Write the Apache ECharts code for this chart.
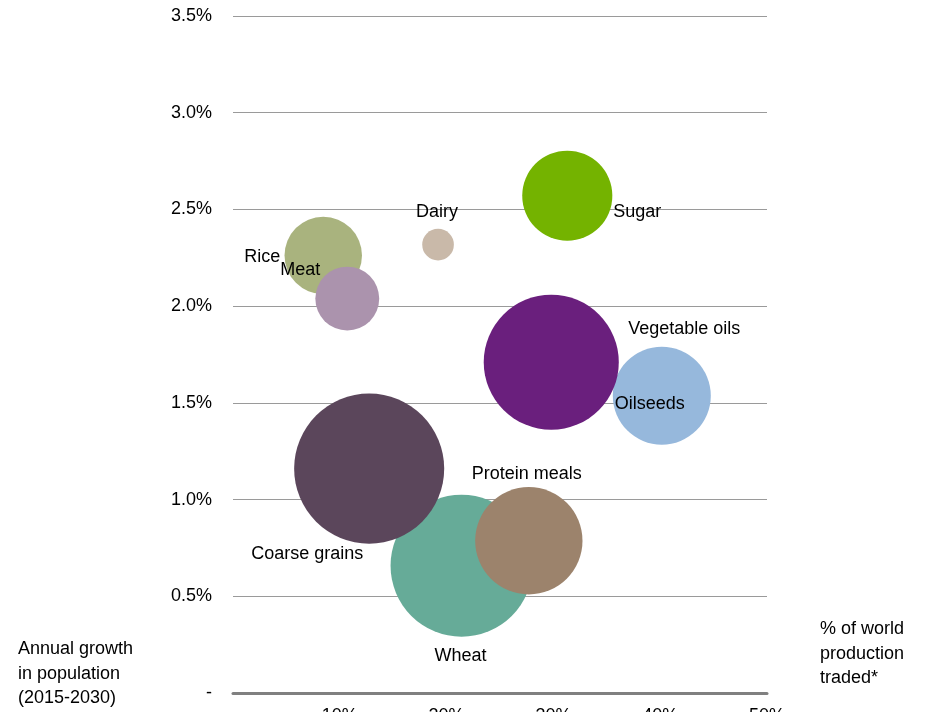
<!DOCTYPE html>
<html>
<head>
<meta charset="utf-8">
<script src="https://cdn.jsdelivr.net/npm/echarts@6/dist/echarts.min.js"></script>
<style>
  html, body { margin: 0; padding: 0; background: #fff; overflow: hidden; }
  #chart { width: 942px; height: 712px; }
</style>
</head>
<body>
<div id="chart"></div>
<script>
// Commodities, in drawing order (later ones sit on top)
const commodities = ['Wheat', 'Oilseeds', 'Rice', 'Meat', 'Dairy', 'Sugar', 'Vegetable oils', 'Coarse grains', 'Protein meals'];
// % of world production traded
const shareTraded = [21.4, 40.15, 8.45, 10.7, 19.2, 31.3, 29.8, 12.75, 27.7];
// Annual growth in population, 2015-2030 (%)
const popGrowth = [0.658, 1.537, 2.262, 2.039, 2.318, 2.571, 1.710, 1.160, 0.787];
// Relative bubble size (area)
const bubbleSize = [50.4, 24.0, 15.0, 10.2, 2.5, 20.3, 45.6, 56.3, 28.8];
// Y-axis tick values
const yTicks = [0, 0.5, 1.0, 1.5, 2.0, 2.5, 3.0, 3.5];
// X-axis tick values
const xTicks = [0, 10, 20, 30, 40, 50];

// Fill colours per commodity
const palette = {
  'Rice': '#a9b37e',
  'Meat': '#ab93ad',
  'Dairy': '#c9b9a9',
  'Sugar': '#74b300',
  'Vegetable oils': '#6a1f7d',
  'Oilseeds': '#96b8dc',
  'Coarse grains': '#5b465b',
  'Wheat': '#66ab98',
  'Protein meals': '#9c836c'
};
// Label placement relative to each bubble centre (px)
const labelOffset = {
  'Rice': [-61, 2],
  'Meat': [-47, -29],
  'Dairy': [-1, -33],
  'Sugar': [70, 16],
  'Vegetable oils': [133, -33],
  'Oilseeds': [-12, 8],
  'Coarse grains': [-62, 85],
  'Wheat': [-1, 90],
  'Protein meals': [-2, -67]
};

const FONT = '"Liberation Sans", Arial, sans-serif';

const seriesData = commodities.map((name, i) => ({
  name: name,
  value: [shareTraded[i], popGrowth[i], bubbleSize[i]],
  itemStyle: { color: palette[name] }
}));

const chart = echarts.init(document.getElementById('chart'), null, { renderer: 'canvas' });

chart.setOption({
  animation: false,
  backgroundColor: '#ffffff',
  grid: {
    left: 233, right: 175, top: 16, bottom: 19,
    containLabel: false,
    outerBoundsMode: 'none'
  },
  xAxis: {
    type: 'value',
    min: xTicks[0],
    max: xTicks[xTicks.length - 1],
    interval: xTicks[1] - xTicks[0],
    axisLine: { show: true, lineStyle: { color: '#808080', width: 3 } },
    axisTick: { show: false },
    splitLine: { show: false },
    axisLabel: {
      margin: 14,
      color: '#000',
      fontSize: 18,
      fontFamily: FONT,
      showMinLabel: true,
      showMaxLabel: true,
      formatter: v => (v === 0 ? '' : v + '%')
    }
  },
  yAxis: {
    type: 'value',
    min: yTicks[0],
    max: yTicks[yTicks.length - 1],
    interval: yTicks[1] - yTicks[0],
    axisLine: { show: false },
    axisTick: { show: false },
    splitLine: { show: true, lineStyle: { color: '#9a9a9a', width: 1 } },
    axisLabel: {
      margin: 21,
      color: '#000',
      fontSize: 18,
      fontFamily: FONT,
      formatter: v => (v === 0 ? '-' : v.toFixed(1) + '%')
    }
  },
  series: [{
    type: 'scatter',
    data: seriesData,
    symbol: 'circle',
    symbolSize: val => Math.sqrt(val[2]) * 20,
    itemStyle: { opacity: 1 },
    emphasis: { disabled: true },
    label: {
      show: true,
      position: 'inside',
      formatter: p => p.name,
      color: '#000',
      fontSize: 18,
      fontFamily: FONT
    },
    labelLayout: params => {
      const off = labelOffset[commodities[params.dataIndex]];
      return { dx: off[0], dy: off[1], hideOverlap: false };
    },
    z: 2
  }],
  graphic: [
    {
      type: 'text',
      left: 18,
      top: 637,
      style: {
        text: 'Annual growth\nin population\n(2015-2030)',
        fill: '#000',
        font: '18px ' + FONT,
        lineHeight: 24.5
      }
    },
    {
      type: 'text',
      left: 820,
      top: 617,
      style: {
        text: '% of world\nproduction\ntraded*',
        fill: '#000',
        font: '18px ' + FONT,
        lineHeight: 24.5
      }
    }
  ]
});
</script>
</body>
</html>
